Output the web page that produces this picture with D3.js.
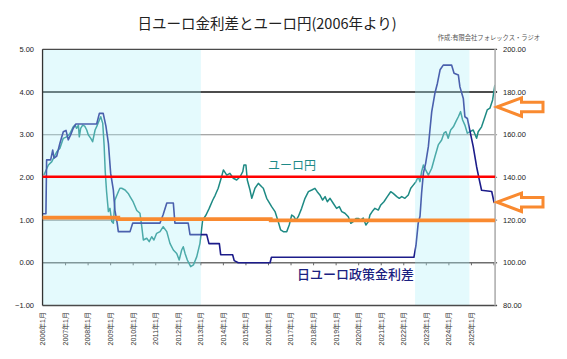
<!DOCTYPE html>
<html><head><meta charset="utf-8">
<script src="https://cdn.jsdelivr.net/npm/d3@7/dist/d3.min.js"></script>
<style>html,body{margin:0;padding:0;background:#fff;}svg{display:block;}</style>
</head><body>
<script>
// ---- data ----
const title = "日ユーロ金利差とユーロ円(2006年より)";
const credit = "作成:有限会社フォレックス・ラジオ";
const leftTicks = [5, 4, 3, 2, 1, 0, -1];
const rightTicks = [200, 180, 160, 140, 120, 100, 80];
const xLabelYears = d3.range(2006, 2026);
// policy rate differential (EUR - JPY), %  [decimal year]
const rateT = [2006.00,2006.13,2006.16,2006.34,2006.43,2006.49,2006.61,2006.75,2006.90,2007.02,2007.12,2007.23,2007.34,2007.46,2008.38,2008.50,2008.67,2008.79,2008.90,2009.00,2009.12,2009.19,2009.29,2009.34,2009.86,2009.98,2011.19,2011.33,2011.49,2011.78,2011.85,2012.44,2012.52,2013.26,2013.36,2013.82,2013.88,2014.41,2014.48,2014.66,2016.07,2016.13,2022.45,2022.54,2022.64,2022.72,2022.79,2022.87,2022.97,2023.09,2023.16,2023.24,2023.38,2023.49,2023.61,2023.75,2024.12,2024.23,2024.42,2024.49,2024.64,2024.71,2024.82,2024.94,2025.08,2025.23,2025.35,2025.45,2025.90,2026.01];
const rateV = [1.15,1.15,2.41,2.41,2.64,2.45,2.50,2.80,3.07,3.10,2.88,3.00,3.15,3.25,3.25,3.50,3.50,3.20,2.80,2.10,1.70,1.23,0.93,0.73,0.73,0.93,0.93,1.13,1.40,1.40,0.93,0.93,0.66,0.66,0.45,0.45,0.19,0.19,0.05,0.00,0.00,0.13,0.13,0.40,0.93,1.09,1.63,2.10,2.33,2.72,3.11,3.54,3.97,4.20,4.52,4.63,4.63,4.44,4.40,4.12,3.85,3.42,3.38,3.07,2.72,2.25,1.94,1.70,1.67,1.40];
// EUR/JPY, yen
const fxT = [2006.04,2006.24,2006.39,2006.61,2006.75,2006.90,2007.05,2007.20,2007.34,2007.42,2007.49,2007.57,2007.61,2007.67,2007.76,2007.85,2007.94,2008.01,2008.12,2008.20,2008.31,2008.41,2008.50,2008.56,2008.65,2008.71,2008.76,2008.82,2008.90,2008.97,2009.05,2009.12,2009.19,2009.34,2009.41,2009.49,2009.64,2009.78,2009.86,2010.00,2010.16,2010.30,2010.38,2010.45,2010.60,2010.71,2010.82,2010.92,2011.04,2011.19,2011.33,2011.49,2011.63,2011.78,2011.93,2012.04,2012.15,2012.22,2012.30,2012.40,2012.55,2012.67,2012.82,2012.96,2013.08,2013.23,2013.37,2013.53,2013.63,2013.77,2013.92,2014.00,2014.15,2014.29,2014.44,2014.59,2014.74,2014.86,2014.91,2015.00,2015.06,2015.18,2015.26,2015.40,2015.55,2015.70,2015.77,2015.92,2016.14,2016.29,2016.43,2016.54,2016.66,2016.81,2016.92,2017.03,2017.13,2017.22,2017.32,2017.47,2017.62,2017.77,2017.92,2018.06,2018.16,2018.28,2018.40,2018.51,2018.61,2018.73,2018.87,2019.02,2019.14,2019.25,2019.39,2019.54,2019.65,2019.76,2019.88,2019.98,2020.09,2020.20,2020.32,2020.43,2020.50,2020.60,2020.72,2020.87,2020.98,2021.12,2021.27,2021.42,2021.53,2021.69,2021.80,2021.91,2022.05,2022.20,2022.31,2022.42,2022.54,2022.64,2022.72,2022.79,2022.87,2022.97,2023.09,2023.24,2023.38,2023.53,2023.68,2023.78,2023.87,2023.97,2024.08,2024.20,2024.31,2024.42,2024.52,2024.61,2024.71,2024.82,2024.94,2025.08,2025.23,2025.30,2025.45,2025.60,2025.70,2025.82,2025.94,2026.04];
const fxV = [141.1,145.8,147.4,152.0,153.6,158.3,159.0,160.6,163.7,164.5,163.0,164.5,159.0,163.0,164.5,164.0,162.2,159.9,158.3,156.7,162.2,164.5,166.9,168.4,165.3,155.2,142.7,133.3,124.0,125.5,119.3,118.5,129.4,133.3,134.9,134.9,134.1,132.5,131.0,128.5,124.5,123.2,116.9,110.7,111.5,109.9,112.2,110.7,113.8,114.6,116.9,114.6,109.1,106.0,104.4,101.3,106.0,107.5,104.4,101.3,98.2,99.0,102.9,109.1,120.0,122.4,125.5,129.4,131.5,134.9,140.3,143.5,141.1,141.9,139.6,138.8,140.3,142.7,145.8,145.8,138.8,134.1,130.2,134.9,137.2,135.6,134.9,130.2,126.3,124.0,119.3,115.4,114.6,114.6,117.7,122.4,121.6,120.0,121.6,125.5,130.2,133.3,134.1,134.9,133.3,131.8,129.4,131.0,128.6,130.2,127.9,125.5,126.3,124.0,123.2,121.6,118.5,119.3,120.8,120.8,120.0,121.0,117.7,119.3,122.4,124.0,125.5,124.7,127.1,128.6,131.0,133.3,132.5,131.0,130.2,131.0,130.2,131.8,134.9,136.4,138.0,140.3,138.0,142.7,145.8,143.5,141.1,144.3,149.7,155.2,157.5,160.7,161.4,158.3,162.2,163.7,166.1,168.4,170.8,166.9,164.5,160.7,161.4,162.2,158.3,161.4,163.7,168.4,171.6,172.4,176.3,183.3];
// shaded periods [start, end]
const shadeStart = [2006.0, 2022.5];
const shadeEnd = [2013.0, 2024.91];
// reference lines
const redLevel = 2.015;       // left axis
const blackLevel = 4.0;       // left axis
const orangeT = [2005.98, 2009.34, 2009.34, 2016.1, 2016.1, 2026.05];
const orangeV = [1.06, 1.06, 1.025, 1.025, 0.995, 0.995];
// annotation arrows
const arrowFx = 173;   // yen, right axis
const arrowRate = 1.42; // %, left axis

// ---- chart ----
const W = 567, H = 359;
const xMin = 2005.98, xMax = 2026.05;
const x = d3.scaleLinear().domain([xMin, xMax]).range([42.55, 495.1]);
const yL = d3.scaleLinear().domain([-1, 5]).range([305.5, 49.3]);
const yR = d3.scaleLinear().domain([80, 200]).range([305.5, 49.3]);
const X0 = x(xMin), X1 = x(xMax);

const svg = d3.select("body").append("svg").attr("width", W).attr("height", H)
  .style("font-family", "'Liberation Sans','Noto Sans CJK JP',sans-serif");
svg.append("rect").attr("width", W).attr("height", H).attr("fill", "#fff");

// gridlines
[3, 2, 1, 0].forEach(v => {
  svg.append("line").attr("x1", X0).attr("x2", X1 + 2).attr("y1", yL(v)).attr("y2", yL(v))
    .attr("stroke", v === 0 ? "#6e6e6e" : "#8a8a8a").attr("stroke-width", v === 0 ? 1.4 : 1.1);
});
svg.append("line").attr("x1", X0).attr("x2", X1 + 2).attr("y1", yL(blackLevel)).attr("y2", yL(blackLevel))
  .attr("stroke", "#111").attr("stroke-width", 1.3);

// year ticks on zero line
const yearTicks = d3.range(2007, 2027);
svg.selectAll(".xt").data(yearTicks).join("line")
  .attr("x1", d => x(d)).attr("x2", d => x(d)).attr("y1", yL(0)).attr("y2", yL(0) + 2.5)
  .attr("stroke", "#666").attr("stroke-width", 1);

// series
const fx = fxT.map((t, i) => [t, fxV[i]]);
const rate = rateT.map((t, i) => [t, rateV[i]]);
svg.append("path").datum(fx)
  .attr("d", d3.line().x(d => x(d[0])).y(d => yR(d[1])))
  .attr("fill", "none").attr("stroke", "#1e8a84").attr("stroke-width", 1.5).attr("stroke-linejoin", "round");
svg.append("path").datum(rate)
  .attr("d", d3.line().x(d => x(d[0])).y(d => yL(d[1])))
  .attr("fill", "none").attr("stroke", "#1c1c8a").attr("stroke-width", 1.6).attr("stroke-linejoin", "round");

// shaded overlays
shadeStart.forEach((s, i) => {
  svg.append("rect").attr("x", x(s)).attr("width", x(shadeEnd[i]) - x(s))
    .attr("y", yL(5)).attr("height", yL(-1) - yL(5))
    .attr("fill", "rgb(170,238,250)").attr("fill-opacity", 0.32);
});

// frame
svg.append("line").attr("x1", X0).attr("x2", X1 + 2).attr("y1", yL(5)).attr("y2", yL(5)).attr("stroke", "#4a4a4a").attr("stroke-width", 1.3);
svg.append("line").attr("x1", X0).attr("x2", X1 + 2).attr("y1", yL(-1)).attr("y2", yL(-1)).attr("stroke", "#4a4a4a").attr("stroke-width", 1.3);
svg.append("line").attr("x1", X0).attr("x2", X0).attr("y1", yL(5)).attr("y2", yL(-1)).attr("stroke", "#333").attr("stroke-width", 1.3);
svg.append("line").attr("x1", X1).attr("x2", X1).attr("y1", yL(5)).attr("y2", yL(-1)).attr("stroke", "#b8b8b8").attr("stroke-width", 1.8);

// red & orange reference lines
svg.append("line").attr("x1", X0).attr("x2", X1).attr("y1", yL(redLevel)).attr("y2", yL(redLevel))
  .attr("stroke", "#ff0000").attr("stroke-width", 2.4);
svg.append("path").datum(orangeT.map((t, i) => [t, orangeV[i]]))
  .attr("d", d3.line().x(d => x(d[0])).y(d => yL(d[1])))
  .attr("fill", "none").attr("stroke", "#f98a30").attr("stroke-width", 3.8);

// axis labels
svg.selectAll(".yl").data(leftTicks).join("text")
  .attr("x", 34).attr("y", d => yL(d) + 2.5).attr("text-anchor", "end")
  .attr("font-size", 7.5).attr("fill", "#222").text(d => d3.format(".2f")(d));
svg.selectAll(".yr").data(rightTicks).join("text")
  .attr("x", 503).attr("y", d => yR(d) + 2.5).attr("text-anchor", "start")
  .attr("font-size", 7.5).attr("fill", "#222").text(d => d3.format(".2f")(d));
svg.selectAll(".xl").data(xLabelYears).join("text")
  .attr("transform", d => `translate(${x(d) + 2.4},312) rotate(-90)`)
  .attr("text-anchor", "end").attr("font-size", 7).attr("fill", "#333")
  .text(d => `${d}年1月`);

// arrows
function arrow(yc) {
  const tip = X1 + 2, hb = 521.5, end = 543;
  const pts = [[tip, yc], [hb, yc - 9], [hb, yc - 4.6], [end, yc - 4.6], [end, yc + 4.8], [hb, yc + 4.8], [hb, yc + 9.3]];
  svg.append("polygon").attr("points", pts.map(p => p.join(",")).join(" "))
    .attr("fill", "none").attr("stroke", "#f98a30").attr("stroke-width", 3).attr("stroke-linejoin", "miter");
}
arrow(yR(arrowFx));
arrow(yL(arrowRate));

// titles and annotations
svg.append("text").attr("x", 267).attr("y", 29).attr("text-anchor", "middle")
  .attr("font-family", "'Noto Sans CJK JP',sans-serif").attr("font-size", 14.5).attr("fill", "#222").text(title);
svg.append("text").attr("x", 540).attr("y", 40).attr("text-anchor", "end")
  .attr("font-family", "'Noto Sans CJK JP',sans-serif").attr("font-size", 6.3).attr("fill", "#555").text(credit);
svg.append("text").attr("x", 268).attr("y", 170).attr("font-family", "'Noto Sans CJK JP',sans-serif")
  .attr("font-size", 12).attr("fill", "#1e8a88").text("ユーロ円");
svg.append("text").attr("x", 297).attr("y", 279).attr("font-family", "'Noto Sans CJK JP',sans-serif")
  .attr("font-size", 13).attr("font-weight", 500).attr("fill", "#1a2080").text("日ユーロ政策金利差");
</script>
</body></html>
